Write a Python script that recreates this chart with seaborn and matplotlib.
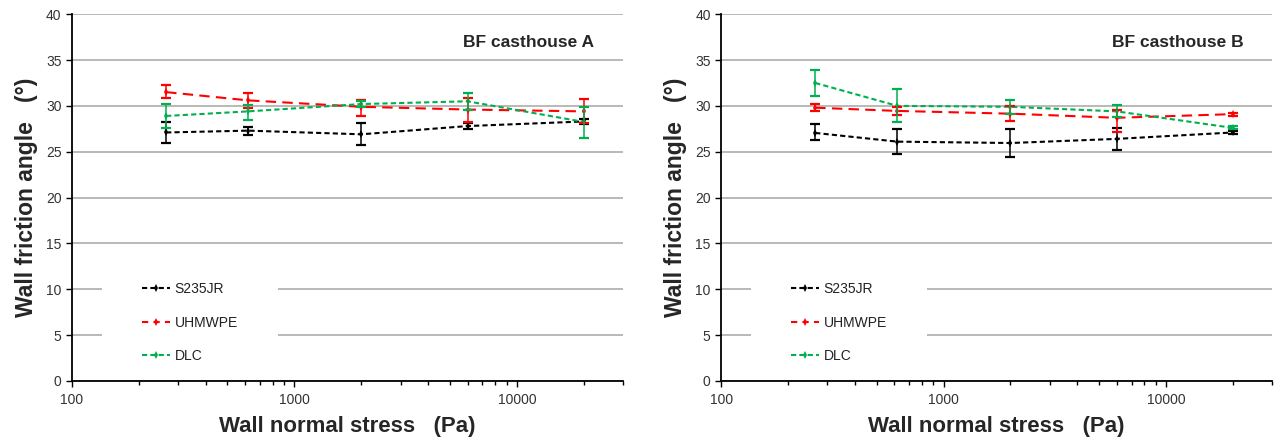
import numpy as np
import pandas as pd
import matplotlib
matplotlib.use("Agg")
import matplotlib.pyplot as plt
from matplotlib.lines import Line2D
from matplotlib.patches import Rectangle
from matplotlib.ticker import FixedLocator, NullFormatter, LogLocator
import seaborn as sns

# Wall friction test data
stress = [265, 620, 2000, 6000, 20000]
materials = ["S235JR", "UHMWPE", "DLC"]

# BF casthouse A
a_s235 = [27.1, 27.3, 26.9, 27.8, 28.3]
a_s235_lo = [26.0, 26.8, 25.7, 27.5, 28.0]
a_s235_hi = [28.2, 27.7, 28.1, 28.1, 28.6]
a_uhmwpe = [31.5, 30.6, 29.9, 29.6, 29.4]
a_uhmwpe_lo = [30.9, 29.8, 28.9, 28.25, 28.1]
a_uhmwpe_hi = [32.25, 31.4, 30.6, 30.9, 30.7]
a_dlc = [28.9, 29.4, 30.2, 30.5, 28.25]
a_dlc_lo = [27.6, 28.5, 29.9, 29.6, 26.5]
a_dlc_hi = [30.2, 30.1, 30.5, 31.4, 29.9]

# BF casthouse B
b_s235 = [27.05, 26.1, 25.95, 26.4, 27.1]
b_s235_lo = [26.25, 24.7, 24.45, 25.2, 26.95]
b_s235_hi = [28.0, 27.45, 27.45, 27.6, 27.3]
b_uhmwpe = [29.8, 29.45, 29.15, 28.7, 29.1]
b_uhmwpe_lo = [29.4, 29.0, 28.3, 27.2, 28.9]
b_uhmwpe_hi = [30.25, 29.9, 29.95, 29.6, 29.25]
b_dlc = [32.5, 30.0, 29.9, 29.4, 27.6]
b_dlc_lo = [31.1, 28.2, 29.15, 28.8, 27.5]
b_dlc_hi = [33.95, 31.8, 30.6, 30.05, 27.8]

panels = [
    ("BF casthouse A",
     [a_s235, a_uhmwpe, a_dlc], [a_s235_lo, a_uhmwpe_lo, a_dlc_lo], [a_s235_hi, a_uhmwpe_hi, a_dlc_hi]),
    ("BF casthouse B",
     [b_s235, b_uhmwpe, b_dlc], [b_s235_lo, b_uhmwpe_lo, b_dlc_lo], [b_s235_hi, b_uhmwpe_hi, b_dlc_hi]),
]

colors = {"S235JR": "#000000", "UHMWPE": "#ff0000", "DLC": "#00b050"}
dashes = {"S235JR": (2.5, 1.5), "UHMWPE": (5, 3), "DLC": (2.5, 1.5)}
leg_dashes = {"S235JR": (2.5, 1.5), "UHMWPE": (3, 2.5), "DLC": (2.5, 1.5)}

sns.set_style("white")
plt.rcParams["font.family"] = ["Liberation Sans", "DejaVu Sans"]

fig = plt.figure(figsize=(12.74, 4.43), dpi=100)
axes = [fig.add_axes([0.0565, 0.14, 0.4325, 0.828]),
        fig.add_axes([0.566, 0.14, 0.4325, 0.828])]

for ax, (title, means, lows, highs) in zip(axes, panels):
    rows = []
    for m, vals in zip(materials, means):
        for x, v in zip(stress, vals):
            rows.append({"stress": x, "angle": v, "material": m})
    df = pd.DataFrame(rows)

    sns.lineplot(data=df, x="stress", y="angle", hue="material", style="material",
                 palette=colors, dashes=dashes, markers={m: "d" for m in materials},
                 markersize=4, markeredgewidth=0, linewidth=1.5, legend=False, ax=ax, zorder=3)

    for m, vals, lo, hi in zip(materials, means, lows, highs):
        vals = np.array(vals)
        yerr = [vals - np.array(lo), np.array(hi) - vals]
        ax.errorbar(stress, vals, yerr=yerr, fmt="none", ecolor=colors[m],
                    elinewidth=1.1, capsize=3.5, capthick=1.6, zorder=4)

    ax.set_xscale("log")
    ax.set_xlim(100, 30000)
    ax.set_ylim(0, 40)
    ax.set_yticks(np.arange(0, 41, 5))
    ax.xaxis.set_major_locator(FixedLocator([100, 1000, 10000]))
    ax.set_xticklabels(["100", "1000", "10000"])
    ax.xaxis.set_minor_locator(LogLocator(base=10, subs=np.arange(2, 10)))
    ax.xaxis.set_minor_formatter(NullFormatter())

    ax.yaxis.grid(True, color="#a6a6a6", linewidth=1.1)
    ax.xaxis.grid(False)
    ax.set_axisbelow(True)
    for s in ["top", "right"]:
        ax.spines[s].set_visible(False)
    for s in ["left", "bottom"]:
        ax.spines[s].set_color("black")
        ax.spines[s].set_linewidth(1.3)
    ax.tick_params(axis="both", which="major", direction="out", length=4, width=1,
                   colors="black", labelcolor="#333333", labelsize=10, left=True, bottom=True)
    ax.tick_params(axis="x", which="minor", direction="out", length=3, width=1,
                   colors="black", bottom=True)
    ax.tick_params(axis="x", pad=5)

    ax.set_xlabel("Wall normal stress   (Pa)", fontsize=16, fontweight="bold", labelpad=6)
    ax.set_ylabel("Wall friction angle   (\u00b0)", fontsize=16.5, fontweight="bold", labelpad=6)
    ax.text(0.948, 0.922, title, transform=ax.transAxes, ha="right", va="center",
            fontsize=12.5, fontweight="bold")

    # white legend area that hides the lower gridlines
    ax.add_patch(Rectangle((0.054, 0.014), 0.32, 0.33, transform=ax.transAxes,
                           facecolor="white", edgecolor="none", zorder=1.5))

    handles = [Line2D([0], [0], color=colors[m], linestyle=(0, leg_dashes[m]), linewidth=1.5,
                      marker="d", markersize=4, markeredgewidth=0) for m in materials]
    leg = ax.legend(handles, materials, loc="upper left", bbox_to_anchor=(0.127, 0.269),
                    frameon=False, fontsize=10, handlelength=2.0, handletextpad=0.35,
                    labelspacing=1.4, borderpad=0, borderaxespad=0)
    for t in leg.get_texts():
        t.set_color("#222222")

fig.savefig("out.png", dpi=100)
